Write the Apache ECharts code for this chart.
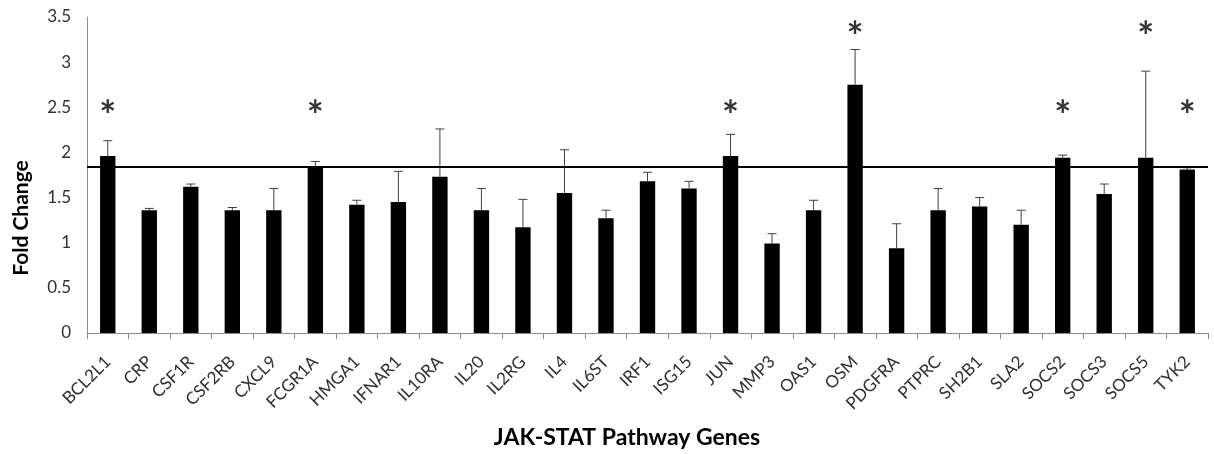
<!DOCTYPE html>
<html>
<head>
<meta charset="utf-8">
<script src="https://cdn.jsdelivr.net/npm/echarts@6/dist/echarts.min.js"></script>
<style>html,body{margin:0;padding:0;background:#fff;}#c{width:1214px;height:454px;}</style>
</head>
<body>
<div id="c"></div>
<script>
const categories = ['BCL2L1','CRP','CSF1R','CSF2RB','CXCL9','FCGR1A','HMGA1','IFNAR1','IL10RA','IL20','IL2RG','IL4','IL6ST','IRF1','ISG15','JUN','MMP3','OAS1','OSM','PDGFRA','PTPRC','SH2B1','SLA2','SOCS2','SOCS3','SOCS5','TYK2'];
const foldChange = [1.96,1.36,1.62,1.36,1.36,1.85,1.42,1.45,1.73,1.36,1.17,1.55,1.27,1.68,1.60,1.96,0.99,1.36,2.75,0.94,1.36,1.40,1.20,1.94,1.54,1.94,1.81];
const errorTop = [2.13,1.38,1.65,1.39,1.60,1.90,1.47,1.79,2.26,1.60,1.48,2.03,1.36,1.78,1.68,2.20,1.10,1.47,3.14,1.21,1.60,1.50,1.36,1.97,1.65,2.90,1.83];
const starHeight = [2.49,null,null,null,null,2.49,null,null,null,null,null,null,null,null,null,2.49,null,null,3.37,null,null,null,null,2.49,null,3.37,2.49];
const thresholdLine = 1.84;
const yTicks = {min: 0, max: 3.5, interval: 0.5};

const font = 'Lato, "Open Sans", sans-serif';
const chart = echarts.init(document.getElementById('c'));

const errData = categories.map((c, i) => [i, foldChange[i], errorTop[i]]);
const starData = [];
categories.forEach((c, i) => { if (starHeight[i] != null) starData.push([i, starHeight[i]]); });

chart.setOption({
  animation: false,
  grid: {left: 87, right: 6, top: 17, bottom: 121},
  xAxis: {
    type: 'category',
    data: categories,
    boundaryGap: true,
    axisLine: {lineStyle: {color: '#8c8c8c', width: 1}},
    axisTick: {show: true, length: 6, lineStyle: {color: '#8c8c8c'}},
    axisLabel: {rotate: 45, interval: 0, fontSize: 17, color: '#303030', fontFamily: font, margin: 26}
  },
  yAxis: {
    type: 'value',
    min: yTicks.min, max: yTicks.max, interval: yTicks.interval,
    splitLine: {show: false},
    axisLine: {show: true, lineStyle: {color: '#8c8c8c', width: 1}},
    axisTick: {show: false},
    axisLabel: {fontSize: 17, color: '#303030', fontFamily: font, margin: 16}
  },
  graphic: [
    {type: 'text', x: 11, y: 218, rotation: Math.PI / 2, style: {text: 'Fold Change', font: 'bold 21px ' + font, fill: '#000', align: 'center', verticalAlign: 'top'}},
    {type: 'text', x: 627, y: 438, style: {text: 'JAK-STAT Pathway Genes', font: 'bold 23px ' + font, fill: '#000', align: 'center', verticalAlign: 'middle'}}
  ],
  series: [
    {
      type: 'bar',
      data: foldChange,
      barWidth: '37%',
      itemStyle: {color: '#000'},
      z: 2,
      markLine: {
        silent: true,
        symbol: 'none',
        label: {show: false},
        lineStyle: {color: '#000', width: 2, type: 'solid'},
        data: [{yAxis: thresholdLine}]
      }
    },
    {
      type: 'custom',
      data: errData,
      z: 3,
      renderItem: function (params, api) {
        const x = api.value(0);
        const lo = api.coord([x, api.value(1)]);
        const hi = api.coord([x, api.value(2)]);
        const cap = 4.5;
        return {
          type: 'group',
          children: [
            {type: 'line', shape: {x1: lo[0], y1: lo[1], x2: hi[0], y2: hi[1]}, style: {stroke: '#404040', lineWidth: 1}},
            {type: 'line', shape: {x1: hi[0] - cap, y1: hi[1], x2: hi[0] + cap, y2: hi[1]}, style: {stroke: '#404040', lineWidth: 1}}
          ]
        };
      }
    },
    {
      type: 'scatter',
      data: starData,
      symbolSize: 0,
      z: 4,
      label: {show: true, position: 'inside', offset: [0, 9], formatter: '*', fontSize: 40, fontWeight: 'bold', color: '#000', fontFamily: font}
    }
  ]
});
</script>
</body>
</html>
